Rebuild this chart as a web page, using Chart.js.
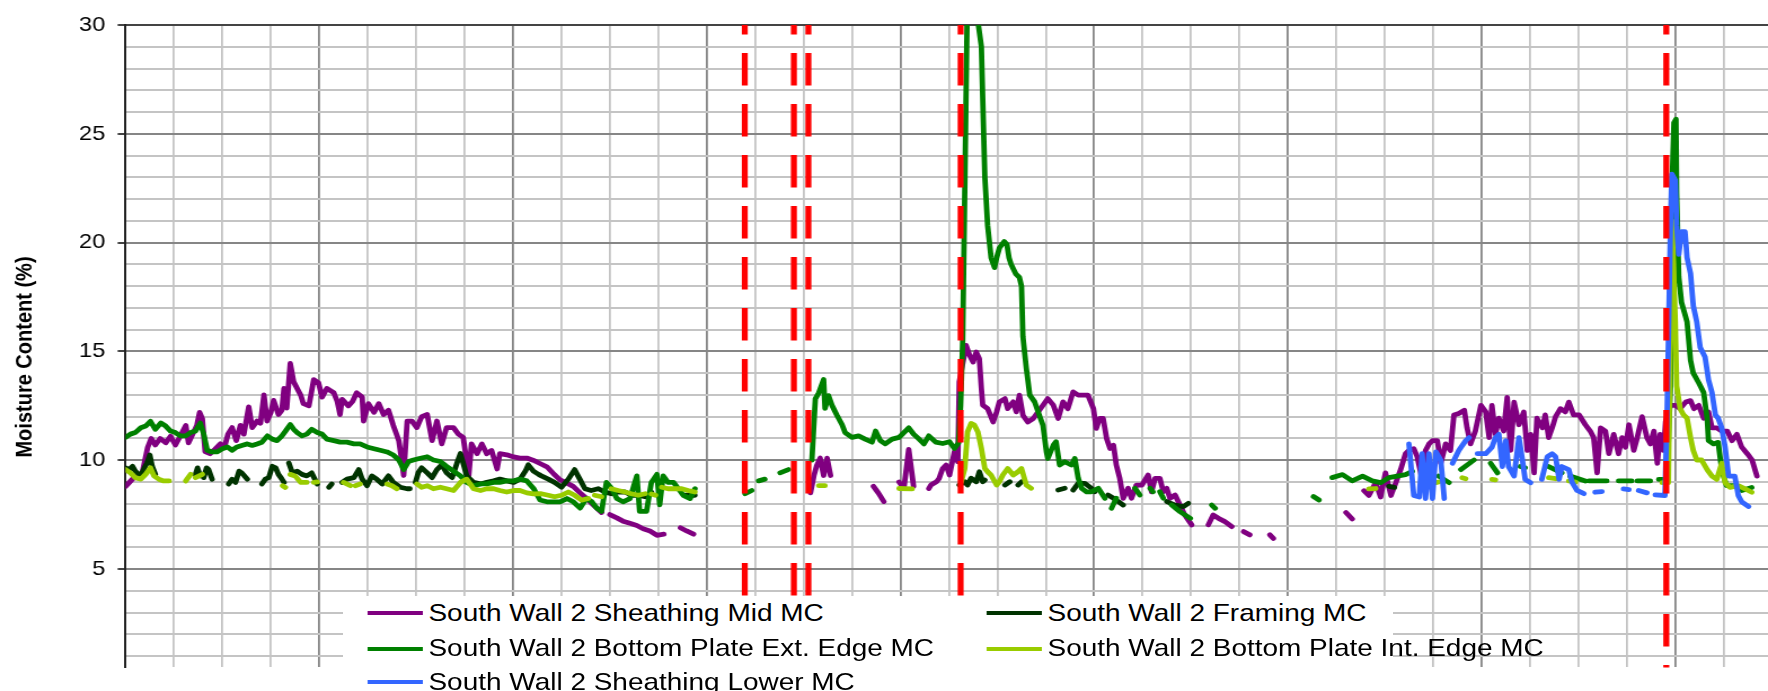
<!DOCTYPE html>
<html>
<head>
<meta charset="utf-8">
<title>South Wall 2 Moisture Content</title>
<script src="https://cdn.jsdelivr.net/npm/chart.js@4.4.1/dist/chart.umd.min.js"></script>
<style>
  html, body { margin: 0; padding: 0; background: #fff; overflow: hidden; }
  #stage { position: absolute; left: 0; top: 0; width: 1568px; height: 691px; transform: scaleX(1.12755); transform-origin: 0 0; }
  #legend { position: absolute; left: 304px; top: 596px; width: 931px; height: 95px; background: #fff;
            font-family: "Liberation Sans", Arial, sans-serif; font-size: 24.8px; color: #000; }
  .item { position: absolute; white-space: nowrap; line-height: 24.8px; }
  .swatch { position: absolute; height: 4px; }
</style>
</head>
<body>
<div id="stage">
  <canvas id="moistureChart" width="1568" height="691"></canvas>
  <div id="legend"></div>
</div>
<script>
// days since start of monitoring; [day, MC %], a null value breaks the line
const sheathingMid = [[0,8.8],[1.2,9.2],[2.4,9.4],[3.2,10.6],[3.7,11.0],[4.3,10.7],[5.0,11.0],[5.8,10.8],[6.5,11.1],[7.2,10.7],[7.9,11.1],[8.7,11.6],[9.1,10.8],[9.7,11.2],[10.3,11.6],[10.7,12.2],[11.1,11.9],[11.5,10.4],[12.2,10.3],[12.9,10.5],[13.7,10.75],[14.3,10.6],[14.8,11.2],[15.4,11.5],[16.0,10.9],[16.6,11.6],[17.1,11.2],[17.8,12.45],[18.3,11.5],[19.0,11.8],[19.5,11.7],[20.0,13.0],[20.45,11.8],[21.0,12.2],[21.4,12.75],[22.1,12.1],[22.6,12.3],[22.9,13.3],[23.3,12.4],[23.8,14.45],[24.3,13.6],[24.8,13.3],[25.3,13.0],[25.7,12.6],[26.5,12.5],[27.2,13.7],[27.9,13.55],[28.4,12.9],[29.1,13.3],[30.1,13.1],[30.6,12.7],[31.0,12.1],[31.3,12.8],[32.2,12.5],[32.8,12.7],[33.4,13.1],[34.2,12.9],[34.4,11.8],[35.1,12.6],[35.9,12.2],[36.6,12.6],[37.3,12.1],[38.0,12.3],[38.7,11.6],[39.5,10.9],[40.0,9.8],[40.2,9.3],[40.7,11.8],[41.4,11.8],[42.1,11.5],[42.8,12.0],[43.6,12.1],[44.3,10.9],[45.0,11.8],[45.7,10.75],[46.4,11.5],[47.4,11.5],[48.1,11.2],[48.8,11.05],[49.6,9.3],[50.0,10.75],[50.8,10.3],[51.5,10.75],[52.2,10.3],[52.9,10.45],[53.7,9.6],[54.1,10.3],[55.1,10.25],[56.1,10.15],[57.0,10.1],[58.0,10.1],[58.9,10.0],[59.9,9.85],[60.9,9.7],[61.8,9.4],[62.8,9.1],[63.8,8.95],[64.7,8.8],[65.7,8.5],[66.6,8.25],[67.6,7.95],[68.8,7.6],[69.4,null],[70.0,7.5],[71.0,7.35],[71.9,7.2],[72.9,7.1],[73.9,7.0],[74.8,6.85],[75.8,6.75],[76.8,6.55],[77.8,6.6],[79,null],[80.2,6.9],[81.1,6.75],[82.1,6.6],[90,null],[99.0,8.5],[99.5,9.3],[99.9,9.75],[100.4,10.1],[100.9,9.3],[101.4,10.1],[101.9,9.3],[105,null],[108.1,8.8],[108.8,8.5],[109.6,8.1],[110.5,null],[111.8,9.0],[112.5,8.7],[113.2,10.5],[113.9,8.8],[115,null],[116.1,8.7],[116.4,8.86],[117.2,9.01],[117.6,9.17],[118.1,9.62],[118.6,9.78],[119.1,9.32],[119.8,10.39],[120.3,9.93],[120.5,13.6],[121.5,15.28],[122.0,14.82],[122.5,14.51],[122.96,14.97],[123.4,14.67],[123.7,13.29],[123.9,12.53],[124.6,12.37],[125.4,11.76],[125.9,12.22],[126.3,12.68],[127.1,12.83],[127.5,12.37],[128.3,12.68],[128.75,12.22],[129.2,12.99],[129.7,12.07],[130.4,11.76],[131.2,11.92],[131.9,12.22],[132.6,12.53],[133.3,12.83],[134.1,12.53],[134.8,11.92],[135.5,12.68],[136.2,12.37],[136.96,13.14],[137.7,12.99],[138.4,12.99],[139.1,12.99],[139.9,12.37],[140.3,11.46],[140.8,11.92],[141.3,11.92],[141.8,11.0],[142.3,10.54],[142.8,10.69],[143.2,9.78],[143.7,9.17],[144.2,8.25],[144.9,8.71],[145.4,8.25],[146.1,8.86],[146.9,8.86],[147.8,9.32],[148.3,8.55],[148.8,9.17],[149.5,9.17],[150.0,8.55],[150.5,8.71],[150.96,8.25],[151.7,8.4],[152.4,7.94],[153.1,7.48],[154.1,7.03],[155,null],[156.5,7.03],[157.2,7.48],[157.97,7.33],[158.9,7.18],[159.9,6.95],[160.5,null],[161.6,6.72],[162.5,6.57],[164,null],[165.4,6.57],[165.9,6.41],[170,null],[176.4,7.6],[177.3,7.3],[178,null],[179.0,8.6],[179.7,8.38],[180.7,8.97],[181.4,8.31],[182.1,9.42],[182.9,8.38],[183.6,8.97],[184.3,9.57],[185.0,10.3],[185.5,10.45],[186.2,10.53],[186.7,10.16],[187.4,9.12],[187.9,10.45],[188.4,10.75],[188.9,10.9],[189.6,10.9],[190.1,9.86],[190.8,10.75],[191.5,10.45],[192.0,12.08],[192.7,12.15],[193.5,12.3],[193.9,11.49],[194.4,10.75],[195.1,11.34],[195.9,12.52],[196.6,12.22],[197.1,11.04],[197.5,12.52],[198.0,11.19],[198.5,11.93],[199.2,11.34],[199.7,12.89],[200.2,10.45],[200.7,12.67],[201.4,11.63],[202.1,12.22],[202.6,10.45],[203.1,11.19],[203.6,9.42],[204.0,11.93],[204.8,11.49],[205.2,12.08],[205.7,11.04],[206.2,11.49],[206.7,12.0],[207.4,12.37],[208.1,12.22],[208.6,12.67],[209.3,12.08],[210.1,12.08],[211.0,11.63],[211.7,11.34],[212.2,11.04],[212.7,9.42],[213.2,11.49],[213.9,11.34],[214.4,10.3],[215.1,11.19],[215.8,10.3],[216.3,11.04],[216.8,10.6],[217.3,11.63],[218.0,10.45],[218.5,11.04],[219.2,12.0],[219.9,11.04],[220.4,10.75],[220.9,11.34],[221.4,9.86],[221.8,11.19],[222.3,10.45],[222.6,11.78],[223.3,12.52],[224.0,12.52],[224.7,12.37],[225.5,12.67],[226.2,12.74],[226.7,12.37],[227.4,12.52],[228.1,11.93],[228.8,12.22],[229.3,11.49],[230.0,11.49],[230.7,11.34],[231.5,11.34],[232.2,10.9],[232.9,11.19],[233.6,10.6],[234.4,10.3],[235.1,10.01],[235.8,9.27]];

const framing = [[0,9.65],[0.5,9.57],[1.0,9.72],[1.4,9.5],[2.2,9.28],[2.6,9.57],[3.1,9.87],[3.5,10.24],[3.85,9.72],[4.3,9.35],[6,null],[10.1,9.35],[10.4,9.65],[10.8,9.28],[11.0,null],[11.3,9.2],[11.7,9.65],[12.0,9.57],[12.5,9.13],[13,null],[14.9,8.91],[15.4,9.13],[15.9,8.98],[16.4,9.5],[16.8,9.42],[17.6,9.13],[18,null],[19.7,8.91],[20.2,9.13],[20.7,9.2],[21.2,9.72],[21.7,9.65],[22.1,9.35],[22.6,9.13],[22.9,8.98],[23.2,null],[23.6,9.87],[24.1,9.42],[24.8,9.5],[25.5,9.35],[26.2,9.28],[26.9,9.42],[27.7,8.91],[28,null],[29.4,8.76],[29.8,8.91],[30.5,null],[31.3,8.98],[32.0,9.13],[33.0,9.2],[33.7,9.57],[34.2,9.13],[34.9,8.83],[35.6,9.28],[36.3,9.13],[37.1,8.91],[38.0,9.28],[38.7,8.98],[39.7,8.76],[40.7,8.69],[41.1,8.69],[41.5,null],[41.9,8.98],[42.3,9.42],[42.8,9.65],[43.6,9.42],[44.3,9.2],[45.0,9.57],[45.7,9.79],[46.4,9.42],[47.2,9.2],[47.9,9.87],[48.4,10.31],[48.8,9.87],[49.3,9.28],[50.3,8.98],[51.3,8.91],[52.2,8.98],[53.2,9.05],[54.1,9.13],[55.1,9.05],[56.1,8.98],[57.0,9.13],[57.8,9.5],[58.2,9.79],[58.95,9.5],[59.7,9.35],[60.1,9.28],[61.1,9.13],[62.0,8.98],[63.0,8.76],[64.0,9.13],[64.9,9.57],[65.65,9.13],[66.4,8.69],[67.3,8.61],[68.3,8.69],[69.3,8.54],[70.2,8.46],[71.2,8.54],[72.2,8.54],[73.1,8.39],[74.1,8.39],[75.1,8.32],[76.0,8.54],[76.5,null],[80.9,8.39],[82.3,8.39],[90,null],[120.5,8.86],[121.3,9.01],[121.7,8.86],[122.2,9.17],[122.96,9.01],[123.4,9.47],[123.9,9.01],[124.2,9.09],[125,null],[127.1,8.86],[127.8,9.01],[128.3,null],[129.0,8.86],[129.5,9.01],[130,null],[134.8,8.63],[135.75,8.71],[136.3,null],[136.96,8.63],[137.7,8.94],[138.65,8.94],[139.6,8.71],[140.1,8.55],[141,null],[142.0,8.4],[142.8,8.25],[143.5,8.1],[144.2,7.94],[145,null],[150.5,8.1],[151.7,7.94],[152.9,7.87],[153.6,8.02],[160,null],[182.6,8.8],[183.4,8.75]];

const plateExt = [[0,11.05],[0.7,11.2],[1.4,11.27],[2.2,11.49],[2.9,11.57],[3.6,11.79],[4.3,11.42],[5.1,11.71],[5.8,11.57],[6.5,11.34],[7.2,11.27],[7.9,11.12],[8.7,11.12],[9.4,11.27],[10.1,11.34],[10.8,11.71],[11.3,11.2],[11.8,10.46],[12.5,10.38],[13.2,10.38],[14.0,10.53],[14.7,10.61],[15.4,10.46],[16.1,10.61],[16.8,10.68],[17.6,10.75],[18.3,10.68],[19.0,10.75],[19.7,10.83],[20.5,11.12],[21.2,10.97],[21.9,10.9],[22.6,11.12],[23.3,11.42],[23.8,11.64],[24.3,11.42],[24.8,11.27],[25.5,11.12],[26.2,11.2],[26.9,11.42],[27.7,11.27],[28.4,11.2],[29.1,10.97],[30.1,10.9],[31.0,10.83],[32.0,10.83],[33.0,10.75],[33.9,10.75],[34.9,10.61],[35.9,10.53],[36.8,10.46],[37.8,10.38],[38.7,10.24],[39.5,10.01],[40.2,9.57],[40.9,9.94],[41.6,10.01],[42.6,10.09],[43.6,10.16],[44.5,10.01],[45.5,9.94],[46.4,9.72],[47.4,9.5],[48.4,9.28],[49.3,8.98],[50.3,8.83],[51.3,8.91],[52.2,8.91],[53.2,8.98],[54.1,8.98],[55.1,9.05],[56.1,9.05],[57.0,9.13],[58.0,9.05],[59.0,8.69],[59.9,8.17],[60.9,8.09],[61.8,8.09],[62.8,8.09],[63.8,8.24],[64.7,8.09],[65.7,7.8],[66.6,8.24],[67.4,8.09],[68.1,7.8],[68.8,7.65],[69.5,8.98],[70.3,8.69],[71.0,8.24],[71.9,8.09],[72.9,8.24],[73.9,9.28],[74.3,7.65],[75.3,7.65],[76.0,8.98],[76.8,9.35],[77.2,7.95],[77.7,9.28],[78.4,8.98],[79.2,8.98],[79.9,8.69],[80.6,8.39],[81.6,8.24],[82.3,8.69],[85,null],[89.55,8.46],[90.5,8.61],[91,null],[91.5,9.05],[92.4,9.13],[93,null],[94.6,9.42],[95.8,9.57],[97,null],[99.2,10.01],[99.7,12.82],[100.2,13.1],[100.9,13.71],[101.1,12.38],[101.6,12.97],[102.1,12.53],[102.8,12.08],[103.55,11.64],[104.0,11.27],[105.0,11.05],[105.95,11.12],[106.9,10.97],[107.9,10.83],[108.4,11.34],[109.1,10.9],[109.8,10.75],[110.8,10.97],[111.8,11.05],[112.5,11.27],[113.2,11.49],[113.9,11.2],[114.7,10.97],[115.4,10.75],[116.1,11.12],[117.1,10.83],[118.1,10.77],[119.1,10.85],[119.8,10.54],[120.4,10.8],[120.7,12.5],[121.0,15.5],[121.65,30.6],[123.05,30.5],[123.7,29.0],[124.2,23.0],[124.6,20.8],[125.1,19.3],[125.6,18.85],[125.9,19.3],[126.3,19.75],[127.0,20.05],[127.4,19.9],[127.7,19.3],[128.0,19.0],[128.7,18.55],[129.2,18.4],[129.5,18.0],[129.7,15.7],[130.2,14.21],[130.7,12.99],[131.4,12.68],[131.9,12.22],[132.6,11.61],[133.1,10.39],[133.3,10.08],[134.1,10.69],[134.5,10.85],[135.0,9.78],[135.75,9.93],[136.7,9.78],[137.2,10.08],[137.7,9.17],[138.2,8.71],[138.9,8.55],[139.6,8.55],[140.6,8.71],[141.55,8.25],[142,null],[142.5,7.79],[143.2,8.25],[143.6,null],[145.9,8.71],[146.6,8.4],[147,null],[148.1,8.71],[148.5,8.55],[149,null],[149.5,8.55],[150.0,8.25],[150.6,null],[151.2,7.94],[152.4,7.64],[153.9,7.33],[155,null],[157.0,7.94],[157.5,7.79],[160,null],[171.7,8.33],[172.5,8.17],[173.5,null],[174.4,9.2],[175.9,9.34],[177.3,9.05],[178.8,9.27],[180.2,9.05],[181.4,8.97],[182.6,9.2],[183.8,9.27],[185.0,9.34],[186.0,9.49],[186.6,null],[189.8,9.27],[191.3,8.97],[191.8,null],[193.0,9.57],[194.9,10.01],[195.5,null],[197.3,9.86],[198.3,9.42],[199,null],[201.6,9.71],[202.3,9.65],[203,null],[205.7,9.71],[207.6,9.42],[208.2,null],[208.8,9.27],[211.0,9.05],[211.3,null],[211.5,9.05],[214.1,9.05],[215,null],[215.8,9.05],[217.7,9.05],[218.1,null],[218.5,9.05],[220.4,9.05],[221,null],[221.6,9.12],[222.3,9.12],[222.8,9.12],[223.3,13.4],[223.5,22.27],[223.8,25.5],[224.1,25.67],[224.2,22.27],[224.5,18.43],[224.9,17.25],[225.7,16.36],[226.2,14.59],[226.6,14.0],[227.4,13.55],[228.1,13.11],[228.6,11.93],[228.8,10.9],[229.5,10.75],[230.2,10.82],[230.7,9.57],[231.4,8.83],[232.6,8.83],[233.6,8.61],[235.05,8.75]];

const plateInt = [[0,9.57],[0.7,9.42],[1.4,9.2],[2.2,9.13],[2.9,9.35],[3.6,9.65],[4.1,9.28],[4.8,9.13],[5.5,9.05],[6.3,9.05],[7,null],[8.7,9.05],[9.4,9.35],[9.8,null],[10.1,9.2],[11.1,9.35],[12,null],[22.7,8.83],[23.1,8.75],[23.4,null],[23.8,9.35],[24.5,9.28],[25.3,8.98],[26.2,8.98],[26.7,null],[27.2,8.98],[27.7,9.0],[28,null],[31.5,8.98],[32.5,8.83],[32.9,null],[33.2,8.83],[33.9,8.91],[34.5,null],[37.8,8.91],[38.5,8.83],[39.2,8.69],[40,null],[42.1,8.91],[42.8,8.76],[43.6,8.83],[44.5,8.69],[45.5,8.76],[46.4,8.69],[47.4,8.61],[48.4,8.98],[49.3,9.13],[50.3,8.69],[51.3,8.61],[52.2,8.69],[53.2,8.69],[54.1,8.61],[55.1,8.54],[56.1,8.61],[57.0,8.61],[58.0,8.5],[58.95,8.45],[60.1,8.46],[61.1,8.39],[62.0,8.32],[63.0,8.39],[64.0,8.54],[64.9,8.39],[65.9,8.17],[66.9,8.24],[67.3,null],[67.8,8.39],[68.8,8.32],[69.5,null],[70.2,8.69],[71.2,8.61],[72.2,8.54],[73.1,8.46],[74.1,8.39],[75.1,8.46],[75.7,null],[76.0,8.45],[76.6,8.39],[77.0,null],[77.5,8.76],[78.4,8.69],[79.4,8.69],[80.4,8.69],[81.3,8.61],[82.3,8.54],[90,null],[100.2,8.83],[101.1,8.83],[105,null],[111.8,8.7],[113.7,8.68],[115,null],[120.8,9.01],[121.3,9.62],[121.7,11.3],[122.2,11.69],[122.7,11.61],[123.2,11.3],[123.7,10.54],[124.2,9.62],[124.6,9.47],[125.1,9.32],[125.9,8.86],[126.3,9.01],[126.8,9.32],[127.5,9.62],[128.3,9.32],[129.0,9.47],[129.5,9.62],[130.2,8.86],[130.9,8.71],[140,null],[179.7,8.68],[180.7,8.7],[181.5,null],[189.4,8.97],[189.8,9.0],[191,null],[193.2,9.2],[193.7,9.15],[195,null],[197.5,9.12],[198.0,9.1],[199,null],[205.7,9.2],[206.7,9.15],[207.8,null],[208.6,9.05],[209.6,9.0],[212,null],[222.1,8.97],[223.0,8.97],[223.5,21.0],[223.7,19.31],[224.0,16.36],[224.2,13.41],[224.7,12.37],[225.2,12.08],[225.7,11.93],[226.2,11.04],[226.6,10.45],[227.1,10.01],[227.8,10.01],[228.6,9.57],[229.3,9.27],[230.0,9.12],[230.7,9.86],[231.2,8.97],[231.9,8.75],[233.1,8.83],[234.1,8.68],[235.05,8.53]];

const sheathingLower = [[185.5,10.75],[186.2,8.38],[187.0,8.31],[187.4,10.3],[187.9,8.24],[188.4,10.3],[188.9,8.24],[189.4,10.38],[190.1,10.01],[190.6,8.24],[191.2,null],[191.8,9.86],[192.7,10.45],[193.7,10.9],[194.2,11.04],[194.8,null],[195.4,10.3],[196.6,10.3],[197.05,10.45],[197.5,10.6],[198.0,11.04],[198.5,11.19],[199.0,9.71],[199.5,10.9],[199.9,9.71],[200.7,9.27],[201.4,11.04],[201.9,10.01],[202.3,9.12],[203.1,8.97],[203.9,null],[204.7,9.12],[205.5,10.16],[206.2,10.3],[206.7,10.16],[207.2,9.12],[207.6,9.71],[208.6,9.57],[209.1,8.97],[209.8,8.61],[210.8,8.46],[211.6,null],[212.4,8.53],[213.4,8.56],[215,null],[216.5,8.68],[217.3,8.65],[218,null],[218.7,8.61],[219.9,8.5],[220.5,null],[221.1,8.41],[222.5,8.38],[222.8,11.93],[223.3,20.79],[223.5,23.15],[224.0,22.86],[224.2,20.79],[224.5,19.46],[224.9,20.5],[225.4,20.5],[225.7,19.31],[226.2,18.58],[226.6,17.1],[227.1,16.36],[227.6,15.18],[228.3,14.74],[228.8,13.7],[229.3,13.11],[229.8,12.08],[230.2,11.93],[230.7,11.49],[231.2,10.6],[231.7,9.27],[232.6,9.27],[233.1,8.38],[233.6,8.09],[234.6,7.87]];

// wetting events (dashed red markers), in days
const eventDays = [89.5, 96.6, 98.7, 120.7, 222.7];

// grid: a line every week on x, every 1 % on y
const weekTicks = [0,7,14,21,28,35,42,49,56,63,70,77,84,91,98,105,112,119,126,133,140,147,154,161,168,175,182,189,196,203,210,217,224,231];
const mcTicks = [1,2,3,4,5,6,7,8,9,10,11,12,13,14,15,16,17,18,19,20,21,22,23,24,25,26,27,28,29,30];

const seriesNames = ['South Wall 2 Sheathing Mid MC', 'South Wall 2 Framing MC', 'South Wall 2 Bottom Plate Ext. Edge MC', 'South Wall 2 Bottom Plate Int. Edge MC', 'South Wall 2 Sheathing Lower MC'];
const seriesColors = ['#800080', '#003300', '#008000', '#99cc00', '#3366ff'];
const seriesData = [sheathingMid, framing, plateExt, plateInt, sheathingLower];
const yTitle = 'Moisture Content (%)';

const font = "'Liberation Sans', Arial, sans-serif";
const toPoints = arr => arr.map(p => ({ x: p[0], y: p[1] }));

const seriesSets = seriesData.map((d, i) => ({
    label: seriesNames[i],
    data: toPoints(d),
    borderColor: seriesColors[i],
    borderWidth: 4.8,
    borderCapStyle: 'round',
    borderJoinStyle: 'round',
    pointRadius: 0,
    spanGaps: false,
    clip: 0
}));

const eventSets = eventDays.map(d => ({
    label: 'event',
    data: [{ x: d, y: 30 }, { x: d, y: 0 }],
    borderColor: '#ff0000',
    borderWidth: 5.3,
    borderDash: [32.5, 18.5],
    borderDashOffset: 23,
    borderCapStyle: 'butt',
    pointRadius: 0,
    clip: 0
}));

// rotated axis title, centred on the plot the way the spreadsheet placed it
const axisTitle = {
    id: 'axisTitle',
    afterDraw(chart) {
        const c = chart.ctx;
        c.save();
        c.translate(22, 357);
        c.rotate(-Math.PI / 2);
        c.font = `bold 20px ${font}`;
        c.fillStyle = '#000';
        c.textAlign = 'center';
        c.textBaseline = 'middle';
        c.fillText(yTitle, 0, 0);
        c.restore();
    }
};

// Excel order: later series on top; index 0 is drawn last in Chart.js
new Chart(document.getElementById('moistureChart').getContext('2d'), {
    type: 'line',
    data: { datasets: eventSets.concat(seriesSets.slice().reverse()) },
    plugins: [axisTitle],
    options: {
        responsive: false,
        animation: false,
        events: [],
        layout: { padding: { left: 59, top: 25, right: 0, bottom: 0 } },
        plugins: { legend: { display: false }, tooltip: { enabled: false } },
        elements: { line: { tension: 0 } },
        scales: {
            x: {
                type: 'linear', min: 0, max: 237.4,
                afterBuildTicks: s => { s.ticks = weekTicks.map(v => ({ value: v })); },
                ticks: { display: false, autoSkip: false },
                grid: { drawTicks: false, lineWidth: 1.8, color: c => c.tick.value % 28 === 0 ? '#868686' : '#c4c4c4' },
                border: { display: false }
            },
            y: {
                min: 0.48, max: 30,
                afterBuildTicks: s => { s.ticks = mcTicks.map(v => ({ value: v })); },
                ticks: { autoSkip: false, callback: v => v % 5 === 0 ? v : '', color: '#000', padding: 11, font: { family: font, size: 21 } },
                grid: {
                    lineWidth: 2, tickLength: 7, tickWidth: 2,
                    color: c => c.tick.value === 30 ? '#444' : (c.tick.value % 5 === 0 ? '#868686' : '#c4c4c4'),
                    tickColor: c => c.tick.value % 5 === 0 ? '#444' : 'rgba(0,0,0,0)'
                },
                border: { color: '#222', width: 2 },
                title: { display: false }
            }
        }
    }
});

// legend box sits inside the plot, two columns
const legendSlots = [[22, 4.6], [571, 4.6], [22, 40.4], [571, 40.4], [22, 73.9]];
const legend = document.getElementById('legend');
seriesNames.forEach((name, i) => {
    const [left, top] = legendSlots[i];
    const sw = document.createElement('div');
    sw.className = 'swatch';
    sw.style.cssText = `left:${left}px;top:${top + 10.1}px;width:49px;background:${seriesColors[i]}`;
    const tx = document.createElement('div');
    tx.className = 'item';
    tx.style.cssText = `left:${left + 54}px;top:${top}px`;
    tx.textContent = name;
    legend.appendChild(sw);
    legend.appendChild(tx);
});
</script>
</body>
</html>
